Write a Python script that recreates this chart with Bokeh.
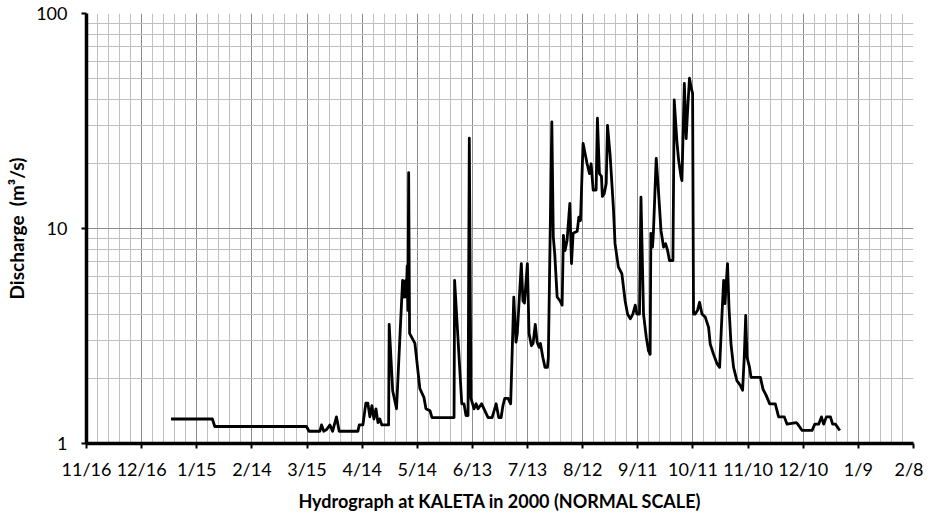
import numpy as np
from bokeh.plotting import figure
from bokeh.models import FixedTicker, CustomJSTickFormatter, Range1d
from bokeh.embed import file_html
from bokeh.resources import INLINE

# ---------------- data ----------------
axis_start = np.datetime64("1999-11-16")
data_start = np.datetime64("2000-01-01")

tick_labels = ["11/16", "12/16", "1/15", "2/14", "3/15", "4/14", "5/14", "6/13",
               "7/13", "8/12", "9/11", "10/11", "11/10", "12/10", "1/9", "2/8"]
tick_step_days = 30
minor_step_days = 6

y_tick_values = [1, 10, 100]

# days since 2000-01-01 and discharge (m3/s)
day = [
    0.0, 22.5, 23.8, 73.7, 75.1, 81.0, 81.9, 83.1, 84.6, 86.4,
    87.9, 90.0, 91.5, 101.7, 102.4, 104.4, 106.0, 107.1, 108.2, 109.3,
    110.4, 111.5, 112.6, 113.6, 114.7, 118.4, 118.7, 120.6, 122.7, 126.0,
    126.7, 127.4, 128.0, 128.5, 128.9, 129.3, 129.8, 132.7, 135.4, 137.6,
    138.7, 140.9, 142.0, 154.0, 154.3, 158.2, 159.4, 160.5, 161.6, 162.3,
    163.2, 164.9, 166.0, 167.0, 169.0, 170.3, 172.5, 174.7, 176.9, 178.3,
    179.6, 180.6, 181.6, 183.4, 184.8, 186.5, 187.7, 188.4, 190.6, 191.5,
    192.3, 193.9, 194.8, 196.1, 197.0, 198.2, 199.2, 200.3, 201.0, 202.3,
    203.5, 204.8, 205.3, 207.2, 208.0, 208.8, 210.1, 211.7, 212.8, 213.5,
    214.4, 215.5, 217.0, 217.9, 218.8, 221.0, 221.9, 222.8, 224.2, 226.4,
    227.7, 228.6, 229.7, 231.3, 232.0, 233.1, 234.2, 234.7, 235.7, 236.8,
    237.5, 238.9, 240.7, 241.6, 243.4, 245.3, 247.1, 248.4, 249.9, 251.3,
    252.6, 253.5, 254.9, 255.7, 257.1, 258.6, 259.8, 260.7, 261.1, 262.0,
    262.5, 264.0, 265.3, 266.6, 268.0, 269.1, 270.2, 271.2, 273.1, 273.8,
    275.3, 276.2, 277.5, 278.0, 279.3, 280.3, 281.0, 282.1, 283.0, 283.8,
    284.3, 285.2, 286.5, 287.6, 288.9, 290.7, 292.5, 293.4, 295.2, 297.1,
    298.5, 299.8, 300.7, 301.4, 302.1, 302.8, 303.6, 304.7, 306.1, 307.9,
    309.8, 311.0, 311.9, 312.7, 313.4, 314.8, 315.6, 320.7, 322.1, 323.9,
    325.7, 328.8, 330.6, 333.7, 335.2, 340.3, 341.0, 343.4, 348.8, 350.3,
    352.4, 353.9, 355.1, 356.6, 358.8, 360.0, 361.5, 363.9,
]
flow = [
    1.3, 1.3, 1.2, 1.2, 1.14, 1.14, 1.22, 1.14, 1.16, 1.22,
    1.14, 1.33, 1.14, 1.14, 1.22, 1.22, 1.54, 1.54, 1.33, 1.5,
    1.3, 1.45, 1.25, 1.3, 1.22, 1.22, 3.58, 1.76, 1.45, 5.74,
    4.8, 5.7, 4.8, 6.7, 4.16, 18.2, 3.25, 2.92, 1.8, 1.64,
    1.45, 1.42, 1.32, 1.32, 5.74, 1.53, 1.53, 1.35, 1.35, 26.3,
    1.62, 1.45, 1.53, 1.45, 1.53, 1.45, 1.32, 1.32, 1.53, 1.32,
    1.32, 1.5, 1.62, 1.62, 1.53, 4.8, 2.96, 3.25, 6.87, 4.6,
    4.5, 6.87, 3.25, 2.85, 2.92, 3.58, 2.96, 2.8, 2.92, 2.52,
    2.26, 2.26, 2.5, 31.3, 9.13, 7.6, 4.8, 4.6, 4.4, 9.3,
    7.9, 8.8, 13.1, 6.87, 9.5, 9.7, 11.3, 10.9, 24.9, 20.0,
    18.0, 20.0, 15.1, 15.1, 32.6, 18.0, 17.5, 14.1, 14.5, 16.2,
    30.2, 22.0, 12.5, 8.5, 6.63, 6.17, 4.6, 4.0, 3.8, 4.0,
    4.4, 4.0, 4.0, 14.0, 4.0, 3.12, 2.7, 2.6, 9.5, 8.2,
    9.7, 21.2, 14.6, 9.8, 8.2, 8.5, 7.9, 7.1, 7.1, 39.6,
    25.1, 20.8, 17.4, 16.7, 47.3, 26.2, 34.3, 50.0, 45.3, 42.5,
    4.0, 4.0, 4.17, 4.54, 4.0, 3.87, 3.47, 2.9, 2.6, 2.35,
    2.26, 4.0, 5.74, 4.47, 5.55, 6.87, 4.3, 2.9, 2.26, 1.96,
    1.86, 1.77, 2.52, 3.94, 2.52, 2.26, 2.03, 2.03, 1.79, 1.67,
    1.53, 1.53, 1.33, 1.33, 1.23, 1.25, 1.23, 1.15, 1.15, 1.23,
    1.23, 1.33, 1.23, 1.33, 1.33, 1.23, 1.23, 1.15,
]

# ---------------- figure ----------------
offset = int((data_start - axis_start).astype(int))
x = np.array(day) + offset
n_ticks = len(tick_labels)
x_end = (n_ticks - 1) * tick_step_days
major_x = [i * tick_step_days for i in range(n_ticks)]
minor_x = [v for v in range(0, x_end + 1, minor_step_days) if v % tick_step_days != 0]
minor_y = [m * d for d in (1, 10) for m in range(2, 10)]

FONT = "Lato"

p = figure(width=923, height=514, output_backend="svg", toolbar_location=None,
           x_range=Range1d(0, x_end), y_range=Range1d(y_tick_values[0], y_tick_values[-1]),
           y_axis_type="log",
           min_border_left=86, min_border_right=10, min_border_top=13, min_border_bottom=71)
p.outline_line_color = None
p.background_fill_color = "white"

xt = FixedTicker(ticks=major_x, minor_ticks=minor_x)
yt = FixedTicker(ticks=y_tick_values, minor_ticks=minor_y)
p.xaxis.ticker = xt
p.xgrid.ticker = xt
p.yaxis.ticker = yt
p.ygrid.ticker = yt

for g in (p.xgrid, p.ygrid):
    g.grid_line_color = "#8c8c8c"
    g.grid_line_width = 1
    g.minor_grid_line_color = "#c0c0c0"
    g.minor_grid_line_width = 1

p.xaxis.formatter = CustomJSTickFormatter(args=dict(labels=tick_labels, step=tick_step_days),
                                          code="return labels[Math.round(tick/step)] || '';")
p.yaxis.formatter = CustomJSTickFormatter(code="return tick.toFixed(0);")

for ax in (p.xaxis, p.yaxis):
    ax.axis_line_color = "black"
    ax.axis_line_width = 3.5
    ax.major_tick_line_color = "black"
    ax.major_tick_line_width = 2
    ax.major_tick_out = 5
    ax.major_tick_in = 0
    ax.minor_tick_line_color = None
    ax.major_label_text_font = FONT
    ax.major_label_text_font_size = "18px"
    ax.major_label_text_color = "black"
    ax.axis_label_text_font = FONT
    ax.axis_label_text_font_style = "bold"
    ax.axis_label_text_color = "black"

p.xaxis.axis_label_text_font_size = "18px"
p.yaxis.axis_label_text_font_size = "19px"
p.xaxis.major_label_standoff = 9
p.xaxis.axis_label = "Hydrograph at KALETA in 2000 (NORMAL SCALE)"
p.xaxis.axis_label_standoff = 7
p.yaxis.major_label_standoff = 14
p.yaxis.axis_label = "Discharge\u00a0 (m\u00b3/s)"
p.yaxis.axis_label_standoff = 5

p.line(x, flow, line_color="black", line_width=2.8, line_join="round")

open("out.html", "w").write(file_html(p, INLINE))
